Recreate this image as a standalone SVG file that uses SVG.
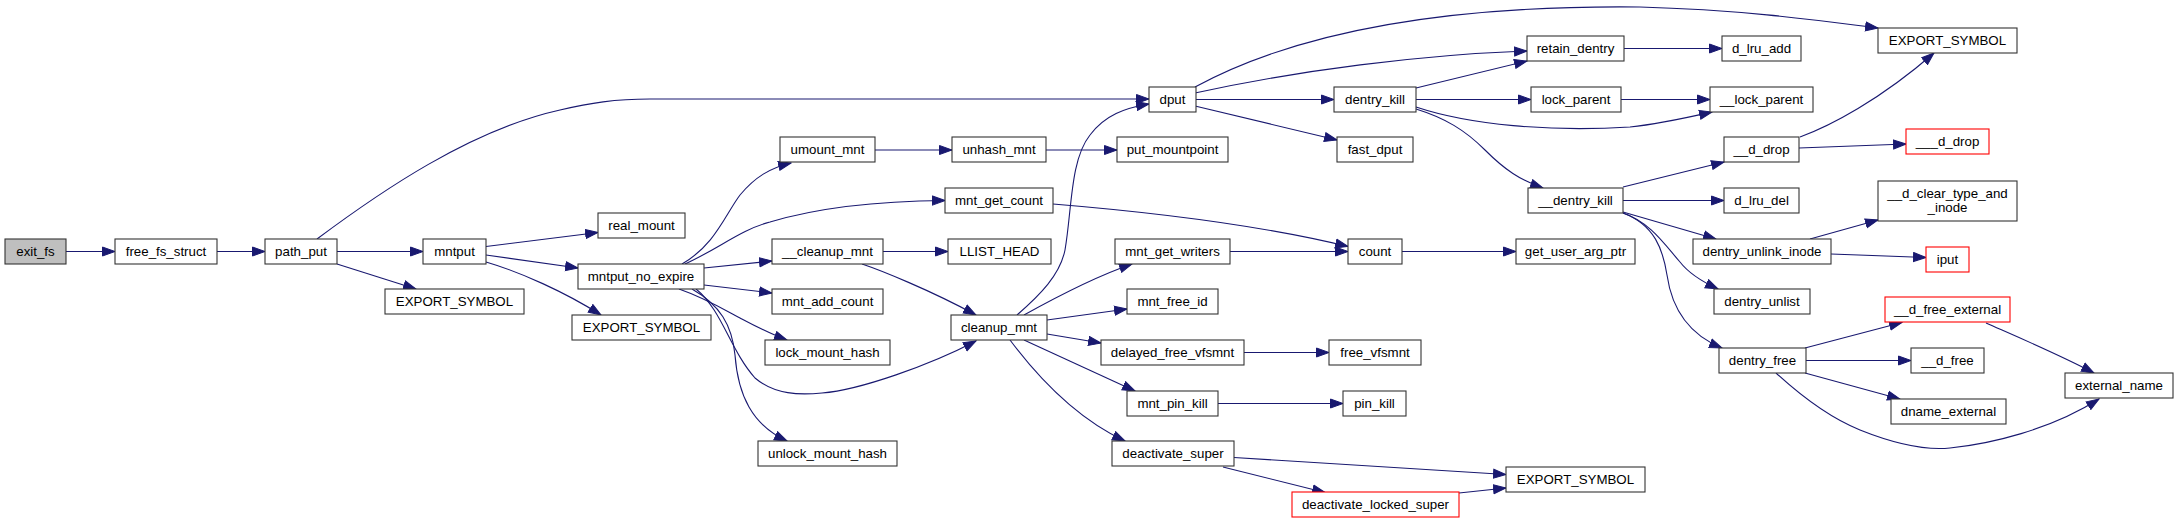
<svg xmlns="http://www.w3.org/2000/svg" width="2177" height="523" viewBox="0 0 2177 523">
<style>
.n rect{fill:#ffffff;stroke:#333333;stroke-width:1.1}
.n.start rect{fill:#bfbfbf}
.n.red rect{stroke:#ff0000}
.n text{font-family:"Liberation Sans",Arial,sans-serif;font-size:13.3px;fill:#000000;text-anchor:middle}
.e path{fill:none;stroke:#191970;stroke-width:1.1;marker-end:url(#ah)}
</style>
<defs>
<marker id="ah" markerUnits="userSpaceOnUse" markerWidth="14" markerHeight="11" viewBox="0 0 14 11" refX="13" refY="5.5" orient="auto">
<path d="M0.5,1 L13,5.5 L0.5,10 z" fill="#191970" stroke="#191970" stroke-width="1"/>
</marker>
</defs>
<rect x="0" y="0" width="2177" height="523" fill="#ffffff"/>
<g id="edges" class="e">
<path d="M66,251.5 L115,251.5"/>
<path d="M217,251.5 L265,251.5"/>
<path d="M337,251.5 L423,251.5"/>
<path d="M337,264 L416,289"/>
<path d="M317,239 C380,192 470,130 560,110 C590,103 615,99 650,99 L1149,99"/>
<path d="M486,246.5 L598,232.5"/>
<path d="M486,255 L578,268"/>
<path d="M486,262 C520,272 565,292 601,315"/>
<path d="M682,264 C715,245 725,215 740,195 C755,177 770,168 791,163"/>
<path d="M685,264 C720,248 740,230 770,222 C820,207 880,201 945,200.5"/>
<path d="M704,268 L772,261"/>
<path d="M704,285 L772,293"/>
<path d="M679,289 C705,298 725,310 740,318 C757,327 770,334 787,340"/>
<path d="M692,289 C720,305 732,325 735,355 C738,395 752,425 787,441"/>
<path d="M696,289 C722,310 730,350 755,378 C775,395 800,395 822,393 C860,390 930,365 976,341"/>
<path d="M875,150 L952,150"/>
<path d="M1046,150 L1117,150"/>
<path d="M1017,315 C1040,295 1060,275 1065,250 C1072,210 1070,160 1090,135 C1105,115 1125,108 1149,104"/>
<path d="M1053,204 C1150,212 1260,225 1348,246.5"/>
<path d="M883,251.5 L948,251.5"/>
<path d="M862,264 C880,270 930,290 976,315"/>
<path d="M1024,315 C1060,295 1100,275 1132,264"/>
<path d="M1047,320 L1127,309"/>
<path d="M1047,334 L1101,343"/>
<path d="M1024,340 L1135,391"/>
<path d="M1010,340 C1040,380 1080,420 1125,441"/>
<path d="M1195,87 C1300,30 1450,5 1640,7 C1750,10 1830,22 1878,28"/>
<path d="M1195,93 C1300,70 1420,55 1527,51"/>
<path d="M1196,99.5 L1334,99.5"/>
<path d="M1195,106 L1337,140"/>
<path d="M1416,88 L1527,61"/>
<path d="M1416,99.5 L1531,99.5"/>
<path d="M1416,107 C1470,125 1550,132 1630,127 C1660,124 1690,117 1712,112"/>
<path d="M1416,109 C1445,118 1465,130 1485,150 C1505,170 1520,180 1543,188"/>
<path d="M1624,48.5 L1722,48.5"/>
<path d="M1621,99.5 L1710,99.5"/>
<path d="M1623,187 L1724,162"/>
<path d="M1623,200.5 L1724,200.5"/>
<path d="M1623,212 L1716,239"/>
<path d="M1623,213 C1650,222 1665,245 1680,262 C1690,275 1705,283 1718,289"/>
<path d="M1623,213 C1655,225 1663,250 1667,275 C1672,310 1690,335 1722,348"/>
<path d="M1810,239 L1878,220"/>
<path d="M1831,254 L1926,257.5"/>
<path d="M1800,137 C1830,126 1880,100 1934,53"/>
<path d="M1799,148 L1906,144"/>
<path d="M1805,348 L1902,322.5"/>
<path d="M1806,360.5 L1911,360.5"/>
<path d="M1805,373 L1900,399"/>
<path d="M1776,373 C1800,395 1830,418 1860,430 C1900,446 1930,450 1950,448 C1990,444 2050,430 2099,399"/>
<path d="M1986,323 C2020,338 2060,355 2094,373"/>
<path d="M1234,457.5 L1506,474.5"/>
<path d="M1223,467 L1325,492.5"/>
<path d="M1459,493 L1506,488"/>
<path d="M1244,352.5 L1329,352.5"/>
<path d="M1218,403.5 L1343,403.5"/>
<path d="M1230,251.5 L1348,251.5"/>
<path d="M1402,251.5 L1516,251.5"/>
</g>
<g id="exit_fs" class="n start"><rect x="5" y="239" width="61" height="25"/><text x="35.5" y="256">exit_fs</text></g>
<g id="free_fs_struct" class="n"><rect x="115" y="239" width="102" height="25"/><text x="166" y="256">free_fs_struct</text></g>
<g id="path_put" class="n"><rect x="265" y="239" width="72" height="25"/><text x="301" y="256">path_put</text></g>
<g id="mntput" class="n"><rect x="423" y="239" width="63" height="25"/><text x="454.5" y="256">mntput</text></g>
<g id="EXPORT_SYMBOL_a" class="n"><rect x="385" y="289" width="139" height="25"/><text x="454.5" y="306">EXPORT_SYMBOL</text></g>
<g id="real_mount" class="n"><rect x="598" y="213" width="87" height="25"/><text x="641.5" y="230">real_mount</text></g>
<g id="mntput_no_expire" class="n"><rect x="578" y="264" width="126" height="25"/><text x="641" y="281">mntput_no_expire</text></g>
<g id="EXPORT_SYMBOL_b" class="n"><rect x="572" y="315" width="139" height="25"/><text x="641.5" y="332">EXPORT_SYMBOL</text></g>
<g id="umount_mnt" class="n"><rect x="780" y="137" width="95" height="25"/><text x="827.5" y="154">umount_mnt</text></g>
<g id="mnt_get_count" class="n"><rect x="945" y="188" width="108" height="25"/><text x="999" y="205">mnt_get_count</text></g>
<g id="__cleanup_mnt" class="n"><rect x="772" y="239" width="111" height="25"/><text x="827.5" y="256">__cleanup_mnt</text></g>
<g id="mnt_add_count" class="n"><rect x="772" y="289" width="111" height="25"/><text x="827.5" y="306">mnt_add_count</text></g>
<g id="lock_mount_hash" class="n"><rect x="765" y="340" width="125" height="25"/><text x="827.5" y="357">lock_mount_hash</text></g>
<g id="unlock_mount_hash" class="n"><rect x="758" y="441" width="139" height="25"/><text x="827.5" y="458">unlock_mount_hash</text></g>
<g id="unhash_mnt" class="n"><rect x="952" y="137" width="94" height="25"/><text x="999" y="154">unhash_mnt</text></g>
<g id="LLIST_HEAD" class="n"><rect x="948" y="239" width="103" height="25"/><text x="999.5" y="256">LLIST_HEAD</text></g>
<g id="cleanup_mnt" class="n"><rect x="951" y="315" width="96" height="25"/><text x="999" y="332">cleanup_mnt</text></g>
<g id="dput" class="n"><rect x="1149" y="87" width="47" height="25"/><text x="1172.5" y="104">dput</text></g>
<g id="put_mountpoint" class="n"><rect x="1117" y="137" width="111" height="25"/><text x="1172.5" y="154">put_mountpoint</text></g>
<g id="mnt_get_writers" class="n"><rect x="1115" y="239" width="115" height="25"/><text x="1172.5" y="256">mnt_get_writers</text></g>
<g id="mnt_free_id" class="n"><rect x="1127" y="289" width="91" height="25"/><text x="1172.5" y="306">mnt_free_id</text></g>
<g id="delayed_free_vfsmnt" class="n"><rect x="1101" y="340" width="143" height="25"/><text x="1172.5" y="357">delayed_free_vfsmnt</text></g>
<g id="mnt_pin_kill" class="n"><rect x="1127" y="391" width="91" height="25"/><text x="1172.5" y="408">mnt_pin_kill</text></g>
<g id="deactivate_super" class="n"><rect x="1112" y="441" width="122" height="25"/><text x="1173" y="458">deactivate_super</text></g>
<g id="dentry_kill" class="n"><rect x="1334" y="87" width="82" height="25"/><text x="1375" y="104">dentry_kill</text></g>
<g id="fast_dput" class="n"><rect x="1337" y="137" width="76" height="25"/><text x="1375" y="154">fast_dput</text></g>
<g id="count" class="n"><rect x="1348" y="239" width="54" height="25"/><text x="1375" y="256">count</text></g>
<g id="free_vfsmnt" class="n"><rect x="1329" y="340" width="92" height="25"/><text x="1375" y="357">free_vfsmnt</text></g>
<g id="pin_kill" class="n"><rect x="1343" y="391" width="63" height="25"/><text x="1374.5" y="408">pin_kill</text></g>
<g id="deactivate_locked_super" class="n red"><rect x="1292" y="492" width="167" height="25"/><text x="1375.5" y="509">deactivate_locked_super</text></g>
<g id="retain_dentry" class="n"><rect x="1527" y="36" width="97" height="25"/><text x="1575.5" y="53">retain_dentry</text></g>
<g id="lock_parent" class="n"><rect x="1531" y="87" width="90" height="25"/><text x="1576" y="104">lock_parent</text></g>
<g id="__dentry_kill" class="n"><rect x="1528" y="188" width="95" height="25"/><text x="1575.5" y="205">__dentry_kill</text></g>
<g id="get_user_arg_ptr" class="n"><rect x="1516" y="239" width="119" height="25"/><text x="1575.5" y="256">get_user_arg_ptr</text></g>
<g id="EXPORT_SYMBOL_c" class="n"><rect x="1506" y="467" width="139" height="25"/><text x="1575.5" y="484">EXPORT_SYMBOL</text></g>
<g id="d_lru_add" class="n"><rect x="1722" y="36" width="79" height="25"/><text x="1761.5" y="53">d_lru_add</text></g>
<g id="__lock_parent" class="n"><rect x="1710" y="87" width="103" height="25"/><text x="1761.5" y="104">__lock_parent</text></g>
<g id="__d_drop" class="n"><rect x="1724" y="137" width="75" height="25"/><text x="1761.5" y="154">__d_drop</text></g>
<g id="d_lru_del" class="n"><rect x="1724" y="188" width="75" height="25"/><text x="1761.5" y="205">d_lru_del</text></g>
<g id="dentry_unlink_inode" class="n"><rect x="1693" y="239" width="138" height="25"/><text x="1762" y="256">dentry_unlink_inode</text></g>
<g id="dentry_unlist" class="n"><rect x="1714" y="289" width="96" height="25"/><text x="1762" y="306">dentry_unlist</text></g>
<g id="dentry_free" class="n"><rect x="1719" y="348" width="87" height="25"/><text x="1762.5" y="365">dentry_free</text></g>
<g id="EXPORT_SYMBOL_d" class="n"><rect x="1878" y="28" width="139" height="25"/><text x="1947.5" y="45">EXPORT_SYMBOL</text></g>
<g id="___d_drop" class="n red"><rect x="1906" y="129" width="83" height="25"/><text x="1947.5" y="146">___d_drop</text></g>
<g id="__d_clear_type_and_inode" class="n"><rect x="1878" y="181" width="139" height="40"/><text x="1947.5" y="198">__d_clear_type_and</text><text x="1947.5" y="212">_inode</text></g>
<g id="iput" class="n red"><rect x="1926" y="247" width="43" height="25"/><text x="1947.5" y="264">iput</text></g>
<g id="__d_free_external" class="n red"><rect x="1885" y="297" width="125" height="25"/><text x="1947.5" y="314">__d_free_external</text></g>
<g id="__d_free" class="n"><rect x="1911" y="348" width="73" height="25"/><text x="1947.5" y="365">__d_free</text></g>
<g id="dname_external" class="n"><rect x="1891" y="399" width="115" height="25"/><text x="1948.5" y="416">dname_external</text></g>
<g id="external_name" class="n"><rect x="2065" y="373" width="108" height="25"/><text x="2119" y="390">external_name</text></g>
</svg>
